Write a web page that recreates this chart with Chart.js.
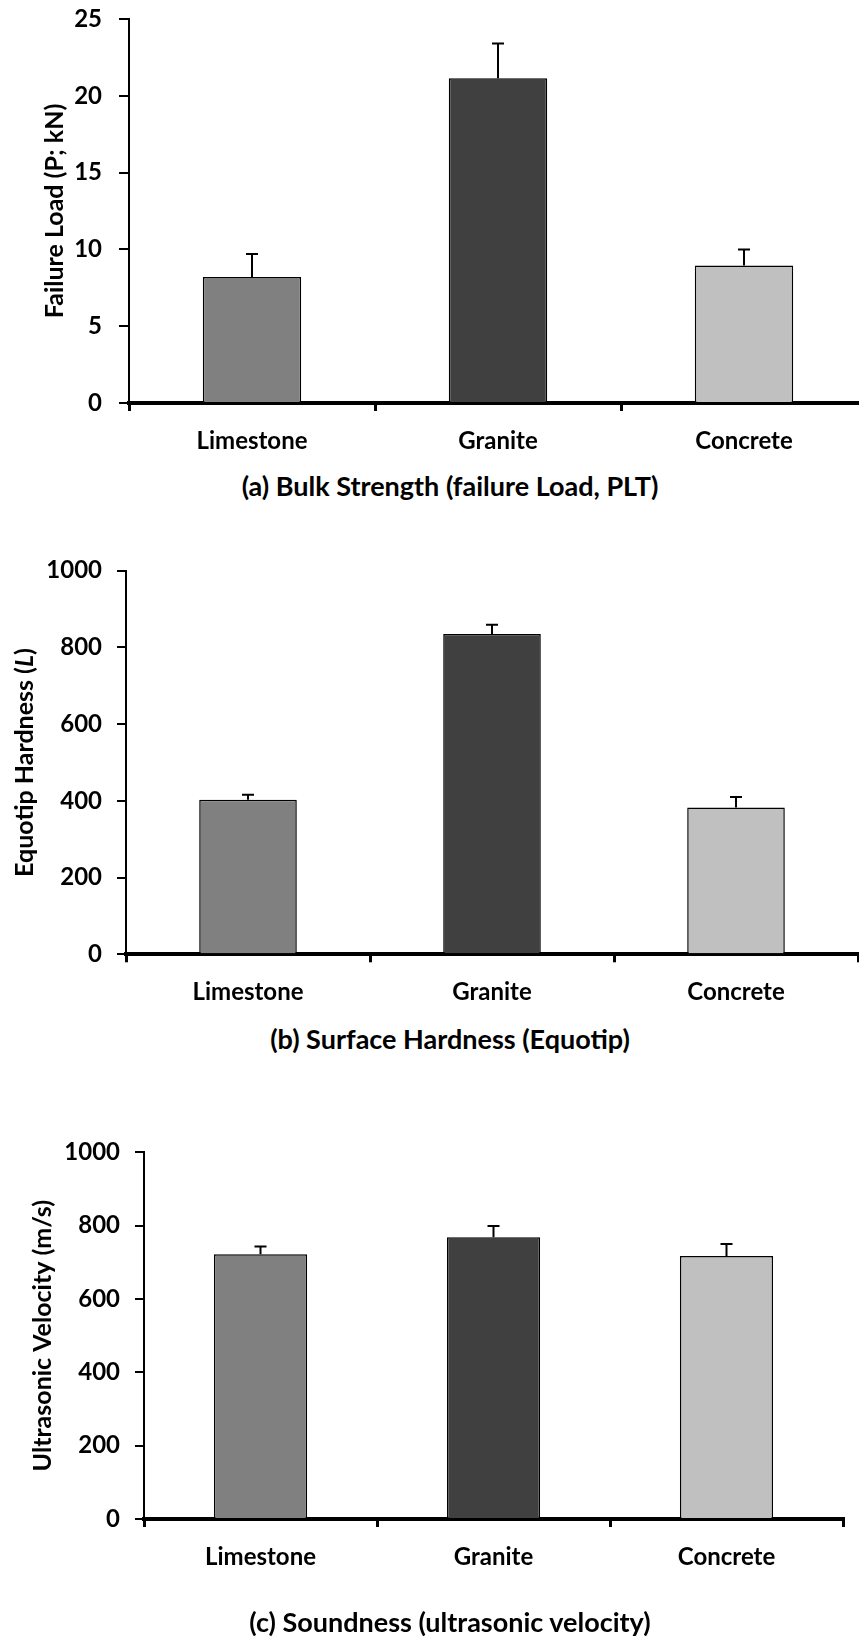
<!DOCTYPE html>
<html>
<head>
<meta charset="utf-8">
<script src="https://cdn.jsdelivr.net/npm/chart.js@4.4.1/dist/chart.umd.min.js"></script>
<style>
  html, body { margin: 0; padding: 0; background: #fff; width: 859px; height: 1638px; overflow: hidden; }
  .panel { position: absolute; left: 0; width: 880px; }
  .caption { position: absolute; left: 0; width: 900px; text-align: center; font: bold 27px Lato, sans-serif; color: #000; line-height: 32px; }
</style>
</head>
<body>
<div class="panel" style="top:0;height:460px"><canvas id="chartA"></canvas></div>
<div class="caption" style="top:470px">(a) Bulk Strength (failure Load, PLT)</div>
<div class="panel" style="top:550px;height:470px"><canvas id="chartB"></canvas></div>
<div class="caption" style="top:1023px">(b) Surface Hardness (Equotip)</div>
<div class="panel" style="top:1130px;height:508px"><canvas id="chartC"></canvas></div>
<div class="caption" style="top:1606px">(c) Soundness (ultrasonic velocity)</div>

<script>
const categories = ["Limestone", "Granite", "Concrete"];

const loadMeans = [8.2, 21.15, 8.95];
const loadErrors = [1.5, 2.25, 1.05];

const hardnessMeans = [403, 835, 383];
const hardnessErrors = [13, 24, 27];

const velocityMeans = [722, 768, 717];
const velocityErrors = [21, 31, 33];

const barColors = ["#808080", "#404040", "#c0c0c0"];
const FONT = "Lato, 'Open Sans', sans-serif";
const TITLE_SIZE = 25;

// error bars (upper only) drawn from the y scale
const errorBarPlugin = {
  id: "errorBars",
  afterDatasetsDraw(chart, args, opts) {
    const meta = chart.getDatasetMeta(0);
    const yScale = chart.scales.y;
    const values = chart.data.datasets[0].data;
    const ctx = chart.ctx;
    ctx.save();
    ctx.strokeStyle = "#000";
    ctx.lineWidth = 2;
    meta.data.forEach((bar, i) => {
      const yTop = yScale.getPixelForValue(values[i] + opts.errors[i]);
      ctx.beginPath();
      ctx.moveTo(bar.x, bar.y);
      ctx.lineTo(bar.x, yTop);
      ctx.moveTo(bar.x - 6, yTop);
      ctx.lineTo(bar.x + 6, yTop);
      ctx.stroke();
    });
    ctx.restore();
  },
};

// y title with an italic part (Chart.js titles are one font only)
const mixedTitlePlugin = {
  id: "mixedTitle",
  afterDraw(chart, args, opts) {
    if (!opts.parts) return;
    const y = chart.scales.y;
    const ctx = chart.ctx;
    ctx.save();
    ctx.translate(y.left + opts.offset, (y.top + y.bottom) / 2);
    ctx.rotate(-Math.PI / 2);
    ctx.fillStyle = "#000";
    ctx.textBaseline = "middle";
    ctx.textAlign = "left";
    const fontFor = (p) => `${p.italic ? "italic " : ""}bold ${TITLE_SIZE}px ${FONT}`;
    let total = 0;
    opts.parts.forEach((p) => { ctx.font = fontFor(p); total += ctx.measureText(p.text).width; });
    let x = -total / 2;
    opts.parts.forEach((p) => {
      ctx.font = fontFor(p);
      ctx.fillText(p.text, x, 0);
      x += ctx.measureText(p.text).width;
    });
    ctx.restore();
  },
};

function makeChart(id, means, errors, cfg) {
  const ctx = document.getElementById(id).getContext("2d");
  return new Chart(ctx, {
    type: "bar",
    data: {
      labels: categories,
      datasets: [
        {
          data: means,
          backgroundColor: barColors,
          borderColor: "#000",
          borderWidth: 1.5,
          categoryPercentage: 1,
          barPercentage: 0.4,
        },
      ],
    },
    options: {
      responsive: true,
      maintainAspectRatio: false,
      animation: false,
      layout: { padding: { top: cfg.padTop, right: cfg.padRight, left: 0, bottom: 0 } },
      plugins: {
        legend: { display: false },
        tooltip: { enabled: false },
        errorBars: { errors: errors },
        mixedTitle: { parts: cfg.titleParts, offset: cfg.titlePad + TITLE_SIZE * 0.6 },
      },
      scales: {
        x: {
          afterFit: (scale) => { scale.height = cfg.xHeight; },
          grid: { drawOnChartArea: false, offset: true, color: "#000", lineWidth: 3, tickLength: 8 },
          border: { color: "#000", width: 4 },
          ticks: { color: "#000", padding: 16, font: { family: FONT, size: 24, weight: "bold" } },
        },
        y: {
          min: 0,
          max: cfg.yMax,
          afterFit: (scale) => {
            scale.width = cfg.yWidth;
            // let the layout padding alone set the plot top
            scale.paddingTop = 0;
            scale.paddingBottom = 0;
          },
          grid: { drawOnChartArea: false, color: "#000", lineWidth: 2, tickLength: cfg.tickLen },
          border: { color: "#000", width: 2 },
          ticks: {
            stepSize: cfg.step,
            color: "#000",
            padding: cfg.tickPad,
            font: { family: FONT, size: 24, weight: "bold" },
            callback: (v) => String(v),
          },
          title: {
            display: !cfg.titleParts,
            text: cfg.title,
            color: "#000",
            padding: { top: cfg.titlePad, bottom: 0 },
            font: { family: FONT, size: TITLE_SIZE, weight: "bold" },
          },
        },
      },
    },
    plugins: [errorBarPlugin, mixedTitlePlugin],
  });
}

makeChart("chartA", loadMeans, loadErrors, {
  padTop: 19, padRight: 13, xHeight: 57, yWidth: 129,
  yMax: 25, step: 5, tickLen: 10, tickPad: 17, titlePad: 40,
  title: "Failure Load (P; kN)",
});

makeChart("chartB", hardnessMeans, hardnessErrors, {
  padTop: 20.7, padRight: 22, xHeight: 65.7, yWidth: 126,
  yMax: 1000, step: 200, tickLen: 9, tickPad: 15, titlePad: 10,
  title: "Equotip Hardness (L)",
  titleParts: [
    { text: "Equotip Hardness (", italic: false },
    { text: "L", italic: true },
    { text: ")", italic: false },
  ],
});

makeChart("chartC", velocityMeans, velocityErrors, {
  padTop: 22.3, padRight: 37, xHeight: 119, yWidth: 144,
  yMax: 1000, step: 200, tickLen: 9, tickPad: 15, titlePad: 28,
  title: "Ultrasonic Velocity (m/s)",
});
</script>
</body>
</html>
